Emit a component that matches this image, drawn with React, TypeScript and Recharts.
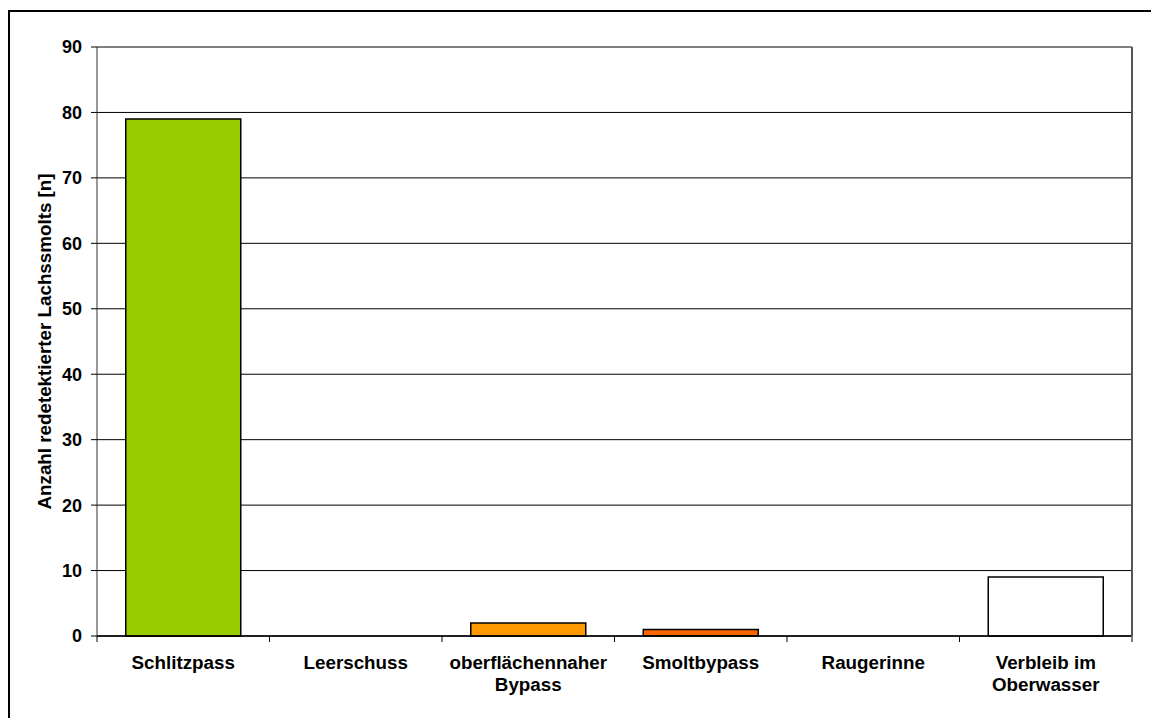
import React from 'react';
import { BarChart, Bar, XAxis, YAxis, CartesianGrid, Cell } from 'recharts';

const categories = ['Schlitzpass', 'Leerschuss', 'oberflächennaher\nBypass', 'Smoltbypass', 'Raugerinne', 'Verbleib im\nOberwasser'];
const values = [79, 0, 2, 1, 0, 9];
const colors = ['#99CC00', '#FFFFFF', '#FF9900', '#FF6600', '#FFFFFF', '#FFFFFF'];
const yTicks = [0, 10, 20, 30, 40, 50, 60, 70, 80, 90];
const yLabel = 'Anzahl redetektierter Lachssmolts [n]';

const data = categories.map((c, i) => ({ name: c, value: values[i] }));

const FONT = '"Liberation Sans", Arial, sans-serif';
const W = 1151;
const H = 718;
const LEFT = 97;
const RIGHT_M = 18;
const BAND = (W - LEFT - RIGHT_M - 1) / categories.length;

const XTick = (props: any) => {
  const { x, y, payload, index } = props;
  const lines = String(payload.value).split('\n');
  const half = payload && typeof payload.offset === 'number' && payload.offset > 0 ? payload.offset : BAND / 2;
  return (
    <g>
      <line x1={x - half} x2={x - half} y1={y} y2={y + 6} stroke="#000" strokeWidth={1} />
      {index === categories.length - 1 && (
        <line x1={x + half} x2={x + half} y1={y} y2={y + 6} stroke="#555" strokeWidth={1.5} />
      )}
      <text x={x} y={y + 33} textAnchor="middle" fontFamily={FONT} fontWeight="bold" fontSize={18.8} fill="#000">
        {lines.map((l, i) => (
          <tspan key={i} x={x} dy={i === 0 ? 0 : 22}>{l}</tspan>
        ))}
      </text>
    </g>
  );
};

const YLabel = (props: any) => {
  const vb = props.viewBox || { x: 0, y: 47, width: 97, height: 589 };
  const cx = 44;
  const cy = vb.y + vb.height / 2;
  return (
    <text x={cx} y={cy} transform={`rotate(-90, ${cx}, ${cy})`} textAnchor="middle" dominantBaseline="central"
      fontFamily={FONT} fontWeight="bold" fontSize={18.8} fill="#000">
      {yLabel}
    </text>
  );
};

export default function App() {
  return (
    <div style={{ position: 'absolute', left: 0, top: 0, width: W, height: H, overflow: 'hidden', background: '#fff' }}>
      <div style={{ position: 'absolute', left: 8, top: 10, width: 1300, height: 900, border: '2px solid #000', boxSizing: 'border-box' }} />
      <div style={{ position: 'absolute', left: 0, top: 0 }}>
        <BarChart width={W} height={H} data={data} margin={{ top: 47, right: RIGHT_M, left: 0, bottom: 0 }} barCategoryGap="16.67%">
          <CartesianGrid vertical={false} horizontal={true} stroke="#000" strokeWidth={1} yAxisId="left" />
          <XAxis dataKey="name" height={82} tick={<XTick />} tickLine={false} tickSize={0} tickMargin={0} interval={0}
            axisLine={{ stroke: '#000', strokeWidth: 1.5 }} />
          <YAxis yAxisId="left" width={LEFT} domain={[0, 90]} ticks={yTicks} interval={0} tickSize={6} tickMargin={9}
            tick={{ fontFamily: FONT, fontWeight: 'bold', fontSize: 18, fill: '#000' }}
            tickLine={{ stroke: '#000' }} axisLine={{ stroke: '#333', strokeWidth: 1 }}
            label={<YLabel />} />
          <YAxis yAxisId="right" orientation="right" width={1} domain={[0, 90]} tick={false} tickLine={false}
            axisLine={{ stroke: '#555', strokeWidth: 2 }} />
          <Bar dataKey="value" yAxisId="left" isAnimationActive={false} stroke="#000" strokeWidth={1.5}>
            {data.map((d, i) => (
              <Cell key={i} fill={colors[i]} />
            ))}
          </Bar>
        </BarChart>
      </div>
    </div>
  );
}
